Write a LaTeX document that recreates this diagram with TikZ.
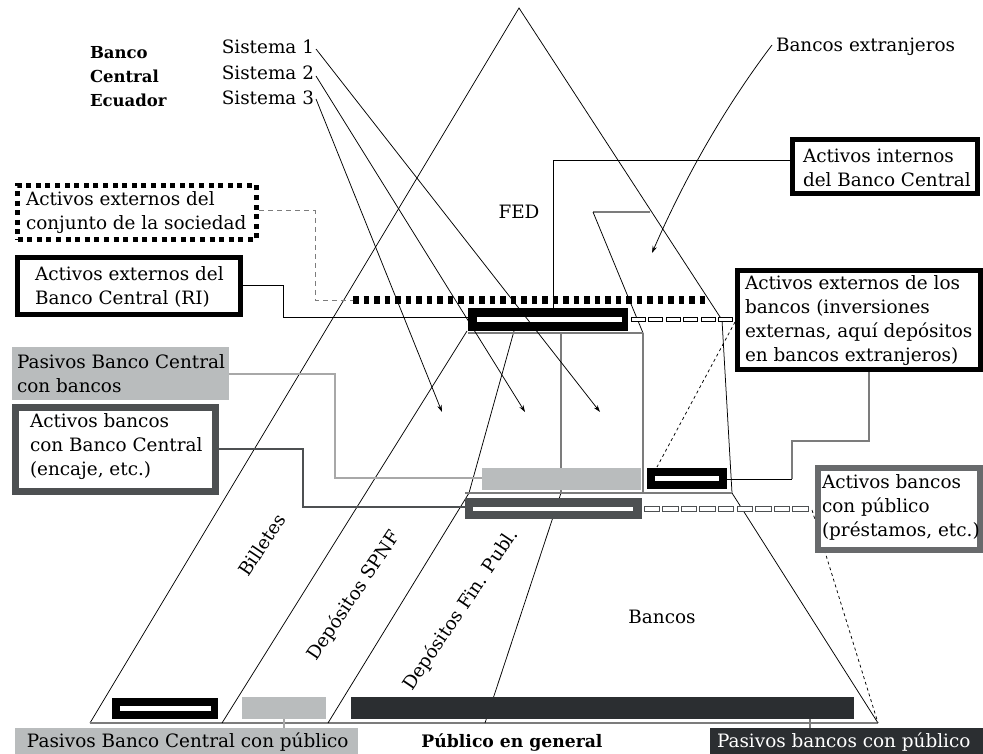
\documentclass[tikz,border=0pt]{standalone}
\usepackage{fontspec}
\setmainfont{DejaVu Serif}
\usetikzlibrary{arrows.meta}
\definecolor{lgray}{HTML}{B9BCBD}
\definecolor{dgray}{HTML}{4D5052}
\definecolor{dfill}{HTML}{2B2E31}
\definecolor{mgray}{HTML}{7C7C7C}
\definecolor{cgray}{HTML}{A8A8A8}
\begin{document}
\begin{tikzpicture}[x=1pt,y=-1pt,
  every node/.style={inner sep=0pt, outer sep=0pt},
  fnt/.style={font=\fontsize{18.4}{24}\selectfont},
  txt/.style={fnt, align=left, anchor=west},
  ln/.style={line width=0.75pt, black},
  gl/.style={line width=1.1pt, mgray},
  arr/.style={ln, -{Stealth[length=7pt,width=4.5pt]}},
  sz/.style 2 args={minimum width=#1, minimum height=#2},
  kbox/.style={draw=black, line width=5pt, fill=white},
  gbox/.style={draw=dgray, line width=6.5pt, fill=white},
  dotbox/.style={draw=black, line width=5pt, dash pattern=on 5pt off 4.6pt, fill=white},
  rot/.style={fnt, rotate=56}
]
\useasboundingbox (0,0) rectangle (983,754);

% ---------- geometry points ----------
\coordinate (A) at (519,8);
\coordinate (BL) at (90,723);
\coordinate (BR) at (878,723);
\coordinate (R1) at (722,320);
\coordinate (R2) at (732,493);
\coordinate (S1t) at (467,331);
\coordinate (S1b) at (222,723);
\coordinate (S2t) at (514,331);
\coordinate (S2m) at (469,493);
\coordinate (S2b) at (328,723);
\coordinate (S3t) at (561,333);
\coordinate (S3m) at (561,493);
\coordinate (S3b) at (485,723);
\coordinate (H1) at (650,212);
\coordinate (H2) at (593,212);
\coordinate (V1) at (643,333);
\coordinate (V2) at (643,493);
\coordinate (T1) at (468,333);
\coordinate (L1) at (465,493);

% ---------- main outline ----------
\draw[ln] (BL) -- (A) -- (R1) -- (R2) -- (BR);
\draw[gl, line width=2pt] (BL) -- (BR);
\draw[ln] (S1t) -- (S1b);
\draw[ln] (S2t) -- (S2m) -- (S2b);
\draw[gl] (S3t) -- (S3m);
\draw[ln] (S3m) -- (S3b);
\draw[gl] (H1) -- (H2);
\draw[ln] (H2) -- (V1);
\draw[gl] (V1) -- (V2);
\draw[gl] (T1) -- (V1);
\draw[gl] (L1) -- (R2);

% ---------- connectors from labels ----------
\coordinate (c1a) at (315,211);
\coordinate (c1b) at (315,300);
\coordinate (dotS) at (353,300);
\coordinate (dotE) at (706,300);
\draw[mgray, line width=1pt, dash pattern=on 5pt off 4pt] (259,211) -- (c1a) -- (c1b) -- (dotS);
\draw[line width=8pt, dash pattern=on 5.5pt off 5pt] (dotS) -- (dotE);

\coordinate (c2a) at (283,285);
\coordinate (c2b) at (283,317);
\draw[ln] (243,285) -- (c2a) -- (c2b) -- (468,317);

\coordinate (c3a) at (335,374);
\coordinate (c3b) at (335,478);
\draw[cgray, line width=1.1pt] (229,374) -- (c3a) -- (c3b) -- (482,478);

\coordinate (c4a) at (303,449);
\coordinate (c4b) at (303,507);
\draw[dgray, line width=1.1pt] (219,449) -- (c4a) -- (c4b) -- (465,507);

\coordinate (c5a) at (553,160);
\coordinate (c5b) at (553,308);
\draw[ln] (790,160) -- (c5a) -- (c5b);

\coordinate (c6a) at (869,441);
\coordinate (c6b) at (792,441);
\coordinate (c6c) at (792,479);
\draw[gl] (869,372) -- (c6a) -- (c6b) -- (c6c);
\draw[ln] (c6c) -- (727,479);

\draw[ln, dashed] (735,322) -- (657,467);
\draw[ln, dashed] (812,510) -- (BR);

\draw[cgray, line width=1.1pt] (284,719) -- (284,728);
\draw[mgray, line width=1.1pt] (810,719) -- (810,728);

% ---------- bars ----------
\fill[black] (468,308) rectangle (628,331);
\fill[white] (477,317) rectangle (622,322);
\foreach \i in {0,...,5}
  \draw[black, line width=1pt, fill=white] ({631+\i*17.5},317) rectangle ++(14,4.5);

\fill[lgray] (482,468) rectangle (641,490);
\fill[black] (647,468) rectangle (727,489);
\fill[white] (655,476) rectangle (719,481);

\fill[dgray] (465,498) rectangle (642,519);
\fill[white] (473,507) rectangle (633,511);
\foreach \i in {0,...,8}
  \draw[dgray, line width=1pt, fill=white] ({644+\i*18.6},506.5) rectangle ++(15.5,4.5);

\fill[black] (112,698) rectangle (218,719);
\fill[white] (120,706) rectangle (211,711);
\fill[lgray] (242,697) rectangle (326,719);
\fill[dfill] (351,697) rectangle (854,719);

% ---------- arrows ----------
\node[txt, anchor=east] (s1) at (314,47) {Sistema 1};
\node[txt, anchor=east] (s2) at (314,73) {Sistema 2};
\node[txt, anchor=east] (s3) at (314,98) {Sistema 3};
\coordinate (s1e) at (316,49);
\coordinate (s2e) at (316,76);
\coordinate (s3e) at (316,99);
\coordinate (p1) at (600,412);
\coordinate (p2) at (525,412);
\coordinate (p3) at (442,412);
\draw[arr] (s1e) -- (p1);
\draw[arr] (s2e) -- (p2);
\draw[arr] (s3e) -- (p3);

\node[txt] (bext) at (776,47) {Bancos extranjeros};
\coordinate (bxs) at (772,45);
\coordinate (bxe) at (652,253);
\draw[arr] (bxs) .. controls (722,111) and (683,182) .. (bxe);

% ---------- label boxes ----------
\node[dotbox, sz={239}{54}] (b1) at (137,212.5) {};
\node[txt] (t1) at (26,212.5) {Activos externos del\\conjunto de la sociedad};

\node[kbox, sz={223}{57}] (b2) at (129,286) {};
\node[txt] (t2) at (35,287) {Activos externos del\\Banco Central (RI)};

\node[fill=lgray, sz={217}{53}] (b3) at (120.5,373.5) {};
\node[txt] (t3) at (17,374) {Pasivos Banco Central\\con bancos};

\node[gbox, sz={200}{84}] (b4) at (115.5,449.5) {};
\node[txt] (t4) at (30,447) {Activos bancos\\con Banco Central\\(encaje, etc.)};

\node[kbox, sz={185}{54}] (b5) at (885,166.5) {};
\node[txt] (t5) at (803,168) {Activos internos\\del Banco Central};

\node[kbox, sz={243}{99}] (b6) at (859,320) {};
\node[txt] (t6) at (745,321) {Activos externos de los\\bancos (inversiones\\externas, aquí depósitos\\en bancos extranjeros)};

\node[gbox, draw=dgray!85, sz={162}{82}] (b7) at (899,509) {};
\node[txt] (t7) at (822,507) {Activos bancos\\con público\\(préstamos, etc.)};

\node[fill=lgray, sz={343}{26}] (b8) at (186.5,741) {};
\node[txt] (t8) at (27,742) {Pasivos Banco Central con público};

\node[fill=dfill, sz={273}{26}] (b9) at (846.5,741) {};
\node[txt, text=white] (t9) at (717,742) {Pasivos bancos con público};

% ---------- free texts ----------
\node[txt, font=\fontsize{16.5}{24}\selectfont\bfseries] (bce) at (90,77) {Banco\\Central\\Ecuador};
\node[fnt] (fed) at (519,212) {FED};
\node[fnt] (bancos) at (662,617) {Bancos};
\node[rot] (bil) at (262,545) {Billetes};
\node[rot] (spnf) at (354,596) {Depósitos SPNF};
\node[rot] (finp) at (461,610) {Depósitos Fin. Publ.};
\node[font=\fontsize{17.2}{24}\selectfont\bfseries] (pub) at (512,743) {Público en general};
\end{tikzpicture}
\end{document}
